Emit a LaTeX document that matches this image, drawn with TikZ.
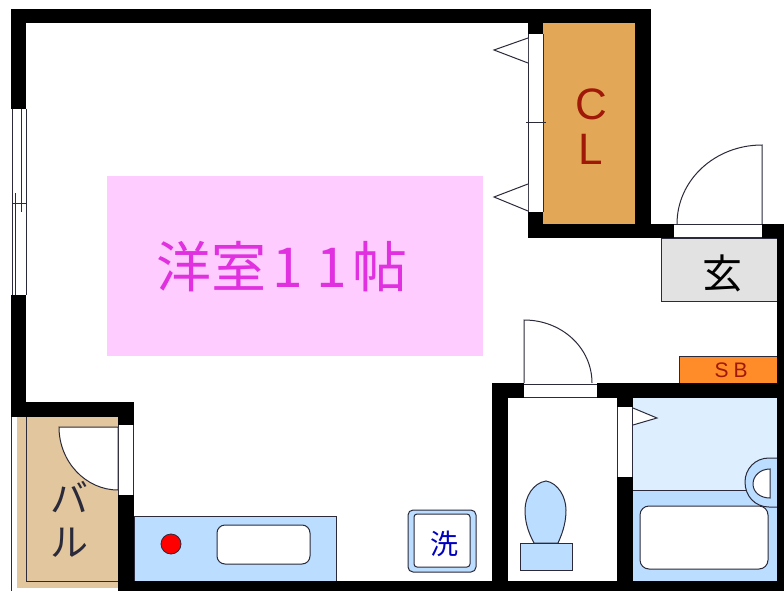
\documentclass[tikz,border=0pt]{standalone}
\usepackage{fontspec}
\newfontfamily\jpf{Noto Sans CJK JP}
\setmainfont{Liberation Sans}
\definecolor{clo}{HTML}{E3A857}
\definecolor{pinkr}{HTML}{FFCCFF}
\definecolor{magt}{HTML}{E030E0}
\definecolor{tanb}{HTML}{E2C69E}
\definecolor{lblue}{HTML}{BBDDFF}
\definecolor{pblue}{HTML}{DDEFFF}
\definecolor{greyg}{HTML}{E2E2E2}
\definecolor{sbo}{HTML}{FF8C28}
\definecolor{darkr}{HTML}{A01808}
\definecolor{ln}{HTML}{2A2A3A}
\tikzset{
  wall/.style={fill=black,draw=none},
  thin line/.style={draw=ln,line width=1pt},
  fixture/.style={fill=lblue,draw=ln,line width=1pt},
  opening/.style={fill=white,draw=none},
  label text/.style={inner sep=0pt,font=\jpf},
}
\begin{document}
\begin{tikzpicture}[x=1pt,y=-1pt]
\useasboundingbox (0,0) rectangle (784,591);
\fill[white] (0,0) rectangle (784,591);
% room fills
\fill[pinkr] (107,176) rectangle (483,356);
\fill[clo] (543,23) rectangle (635,224);
\fill[tanb] (17,417) rectangle (118,588);
\draw[thin line,fill=greyg] (661,238) rectangle (777,301);
\draw[draw=none,fill=sbo] (679,356) rectangle (777,383);
\draw[thin line] (679,383) -- (679,356) -- (777,356);
% bath
\fill[pblue] (633,398) rectangle (777,490);
\fill[lblue] (633,490) rectangle (777,581);
\draw[thin line] (633,490) -- (746,490);
\draw[fixture] (777,458) -- (769,458) .. controls (755,458) and (745,469) .. (745,482) .. controls (745,496) and (755,507) .. (769,507) -- (777,507);
\draw[thin line,fill=white] (770,469) .. controls (760,469) and (753,476) .. (753,484) .. controls (753,492) and (760,498) .. (770,498) -- cycle;
\draw[thin line,fill=white,rounded corners=9pt] (640,506) rectangle (768,569);
% toilet
\draw[fixture] (534,543) .. controls (527,530) and (525,520) .. (525,510) .. controls (525,497) and (533,483) .. (546,481) .. controls (558,483) and (566,497) .. (566,510) .. controls (566,520) and (564,530) .. (558,543) -- cycle;
\draw[fixture] (520,543) rectangle (572,570);
% kitchen
\draw[fixture] (134,581) -- (134,516) -- (336,516) -- (336,581);
\draw[thin line,fill=white,rounded corners=8pt] (217,525) rectangle (310,564);
\draw[fill=red,draw=ln,line width=0.8pt] (171,544) circle (10);
% washer
\draw[fixture,rounded corners=5pt] (408,510) rectangle (476,572);
\draw[thin line,fill=white,rounded corners=3pt] (414,514) rectangle (470,567);
% walls
\fill[wall] (11,9) rectangle (651,23);
\fill[wall] (11,9) rectangle (26,109);
\fill[wall] (11,295) rectangle (26,417);
\fill[wall] (11,402) rectangle (134,417);
\fill[wall] (118,402) rectangle (134,425);
\fill[wall] (118,495) rectangle (134,591);
\fill[wall] (118,581) rectangle (784,591);
\fill[wall] (635,9) rectangle (651,238);
\fill[wall] (528,23) rectangle (543,34);
\fill[wall] (528,212) rectangle (543,238);
\fill[wall] (528,224) rectangle (674,238);
\fill[wall] (762,224) rectangle (784,238);
\fill[wall] (777,224) rectangle (784,591);
\fill[wall] (492,383) rectangle (524,398);
\fill[wall] (597,383) rectangle (777,398);
\fill[wall] (492,383) rectangle (508,591);
\fill[wall] (617,383) rectangle (633,407);
\fill[wall] (617,477) rectangle (633,581);
% window
\draw[thin line] (12,109) -- (12,295);
\draw[thin line] (26,109) -- (26,295);
\draw[thin line] (21,109) -- (21,212);
\draw[thin line] (15,193) -- (15,295);
\draw[thin line] (12,203) -- (26,203);
% balcony outline
\draw[thin line] (11.5,417) -- (11.5,591);
\draw[thin line] (26,417) -- (26,581) -- (118,581);
% closet doors
\draw[thin line] (528,34) -- (528,212);
\draw[thin line] (543,34) -- (543,212);
\draw[thin line] (526,123) -- (546,123);
\draw[thin line,fill=white] (528,38) -- (494,50) -- (528,63);
\draw[thin line,fill=white] (528,184) -- (494,197) -- (528,211);
% entry door
\fill[opening] (674,225) rectangle (762,237);
\draw[thin line] (674,224.5) -- (762,224.5) (674,237.5) -- (762,237.5);
\draw[thin line] (677,224) .. controls (677,180) and (715,145) .. (762,145) -- (762,224);
% toilet door
\fill[opening] (524,384) rectangle (597,397);
\draw[thin line] (524,384) -- (597,384) (524,397.5) -- (597,397.5);
\draw[thin line] (524,383) -- (524,320) .. controls (562,320) and (592,348) .. (592,383);
% bath door
\fill[opening] (618,407) rectangle (632,477);
\draw[thin line] (617.5,407) -- (617.5,477) (632.5,407) -- (632.5,477);
\draw[thin line,fill=white] (633,408) -- (657,418) -- (633,425);
% balcony door
\fill[opening] (119,425) rectangle (133,495);
\draw[thin line] (118.5,425) -- (118.5,495) (133,425) -- (133,495);
\draw[thin line,fill=white] (118,427) -- (59,427) .. controls (59,462) and (86,490) .. (118,490) -- cycle;
% labels
\node[label text,text=magt] (room) at (282.5,267) {\fontsize{55}{55}\selectfont 洋室\kern6pt 1\kern13pt 1\kern6pt 帖};
\node[label text,text=darkr] (c) at (591,104) {\fontsize{44}{44}\selectfont\rmfamily C};
\node[label text,text=darkr] (l) at (591,149) {\fontsize{44}{44}\selectfont\rmfamily L};
\node[label text] (gen) at (722,273) {\fontsize{40}{40}\selectfont 玄};
\node[label text,text=darkr] (sb) at (731,370) {\fontsize{21}{21}\selectfont\rmfamily S\kern5pt B};
\node[label text,text=ln] (ba) at (69,497) {\fontsize{38}{38}\selectfont バ};
\node[label text,text=ln] (ru) at (69,543) {\fontsize{38}{38}\selectfont ル};
\node[label text,text=blue!75!black] (wash) at (444,544) {\fontsize{28}{28}\selectfont 洗};
\end{tikzpicture}
\end{document}
